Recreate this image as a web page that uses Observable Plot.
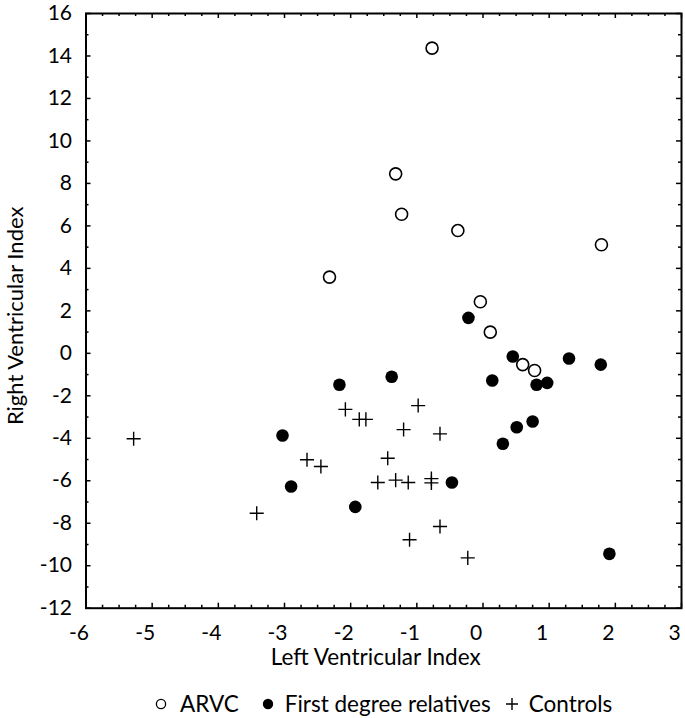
<!DOCTYPE html>
<html>
<head>
<meta charset="utf-8">
<script src="https://cdn.jsdelivr.net/npm/d3@7"></script>
<script src="https://cdn.jsdelivr.net/npm/@observablehq/plot@0.6"></script>
<style>
  body { margin: 0; background: #fff; font-family: Lato, "Noto Sans", sans-serif; }
  #chart svg { display: block; overflow: visible; }
  #legend { height: 24px; margin-top: 12px; display: flex; align-items: center; justify-content: flex-start;
            font-size: 22.5px; color: #000; line-height: 24px; padding-left: 155px; }
  #legend svg { display: block; }
  #legend .item { display: flex; align-items: center; }
</style>
</head>
<body>
<div id="chart"></div>
<div id="legend"></div>
<script>
// ---- data ----
const seriesNames = ["ARVC", "First degree relatives", "Controls"];

const arvcX = [-0.77, -1.32, -1.23, -0.38, 1.79, -2.32, -0.04, 0.11, 0.60, 0.78];
const arvcY = [14.37, 8.45, 6.55, 5.78, 5.11, 3.59, 2.43, 1.00, -0.53, -0.81];

const relativesX = [-0.22, 0.45, 1.30, 1.78, 0.14, 0.81, 0.97, -1.38, -2.17, -3.03, 0.75, 0.51, 0.30, -0.47, -2.90, -1.93, 1.91];
const relativesY = [1.67, -0.15, -0.24, -0.53, -1.28, -1.48, -1.39, -1.10, -1.48, -3.87, -3.21, -3.48, -4.26, -6.08, -6.27, -7.23, -9.44];

const controlsX = [-5.28, -2.08, -1.87, -1.77, -0.98, -1.20, -0.65, -2.66, -2.45, -1.44, -1.59, -1.32, -1.13, -0.78, -0.78, -3.42, -0.65, -1.11, -0.23];
const controlsY = [-4.02, -2.64, -3.11, -3.11, -2.46, -3.59, -3.79, -5.01, -5.33, -4.94, -6.08, -5.97, -6.08, -5.90, -6.10, -7.53, -8.15, -8.78, -9.63];

const xDomain = [-6, 3];
const yDomain = [-12, 16];
const xTicks = [-6, -5, -4, -3, -2, -1, 0, 1, 2, 3];
const yTicks = [-12, -10, -8, -6, -4, -2, 0, 2, 4, 6, 8, 10, 12, 14, 16];
const xMinor = d3.range(-6, 3.0001, 0.25).filter(v => !Number.isInteger(v));
const yMinor = d3.range(-11, 16, 2);

const xLabel = "Left Ventricular Index";
const yLabel = "Right Ventricular Index";

// ---- layout ----
const W = 685, H = 680;
const mL = 85.5, mR = 4, mT = 13, mB = 72.3;
const fw = W - mL - mR, fh = H - mT - mB;
const majorLen = 5, minorLen = 3;

const toRows = (xs, ys) => xs.map((x, i) => ({x, y: ys[i]}));
const arvc = toRows(arvcX, arvcY);
const relatives = toRows(relativesX, relativesY);
const controls = toRows(controlsX, controlsY);

const fmt = d => `${d}`;
const tickStyle = {stroke: "black", strokeWidth: 1.5};

const chart = Plot.plot({
  width: W, height: H,
  marginLeft: mL, marginRight: mR, marginTop: mT, marginBottom: mB,
  style: {fontFamily: "Lato, 'Noto Sans', sans-serif", fontSize: "21px", color: "black", background: "white"},
  x: {domain: xDomain},
  y: {domain: yDomain},
  marks: [
    // inward ticks on all four sides
    Plot.tickX(xTicks, {x: d => d, insetTop: fh - majorLen, ...tickStyle}),
    Plot.tickX(xTicks, {x: d => d, insetBottom: fh - majorLen, ...tickStyle}),
    Plot.tickX(xMinor, {x: d => d, insetTop: fh - minorLen, ...tickStyle}),
    Plot.tickX(xMinor, {x: d => d, insetBottom: fh - minorLen, ...tickStyle}),
    Plot.tickY(yTicks, {y: d => d, insetRight: fw - majorLen, ...tickStyle}),
    Plot.tickY(yTicks, {y: d => d, insetLeft: fw - majorLen, ...tickStyle}),
    Plot.tickY(yMinor, {y: d => d, insetRight: fw - minorLen, ...tickStyle}),
    Plot.tickY(yMinor, {y: d => d, insetLeft: fw - minorLen, ...tickStyle}),
    Plot.frame({stroke: "black", strokeWidth: 2}),
    Plot.axisX(xTicks, {tickSize: 0, tickPadding: 16.5, tickFormat: fmt, label: null, fontSize: 21, dx: -7}),
    Plot.axisY(yTicks, {tickSize: 0, tickPadding: 14, tickFormat: fmt, label: null, fontSize: 21}),
    Plot.text([xLabel], {text: d => d, frameAnchor: "bottom", dy: 50, dx: -8, fontSize: 22.5, lineAnchor: "middle", textAnchor: "middle", fill: "black"}),
    Plot.text([yLabel], {text: d => d, frameAnchor: "left", rotate: -90, dx: -70.5, dy: 5, fontSize: 22, lineAnchor: "middle", textAnchor: "middle", fill: "black"}),
    // data
    Plot.dot(controls, {x: "x", y: "y", symbol: "plus", r: 4.6, stroke: "black", strokeWidth: 1.4}),
    Plot.dot(relatives, {x: "x", y: "y", r: 6.3, fill: "black", stroke: "none"}),
    Plot.dot(arvc, {x: "x", y: "y", r: 6, fill: "white", stroke: "black", strokeWidth: 1.6})
  ]
});
document.getElementById("chart").appendChild(chart);

// ---- legend below the chart ----
const legend = d3.select("#legend");
const symbolSvgs = [
  s => s.append("circle").attr("cx", 6).attr("cy", 6).attr("r", 4.6).attr("fill", "white").attr("stroke", "black").attr("stroke-width", 1.3),
  s => s.append("circle").attr("cx", 6).attr("cy", 6).attr("r", 5.2).attr("fill", "black"),
  s => s.append("path").attr("d", "M0,6H12M6,0V12").attr("stroke", "black").attr("stroke-width", 1.4)
];
const gapsBefore = [0, 23, 15];
seriesNames.forEach((name, i) => {
  const item = legend.append("span").attr("class", "item").style("margin-left", gapsBefore[i] + "px");
  const svg = item.append("svg").attr("width", 12).attr("height", 12).style("margin-right", (i === 0 ? 13 : 11) + "px");
  symbolSvgs[i](svg);
  item.append("span").text(name);
});
</script>
</body>
</html>
